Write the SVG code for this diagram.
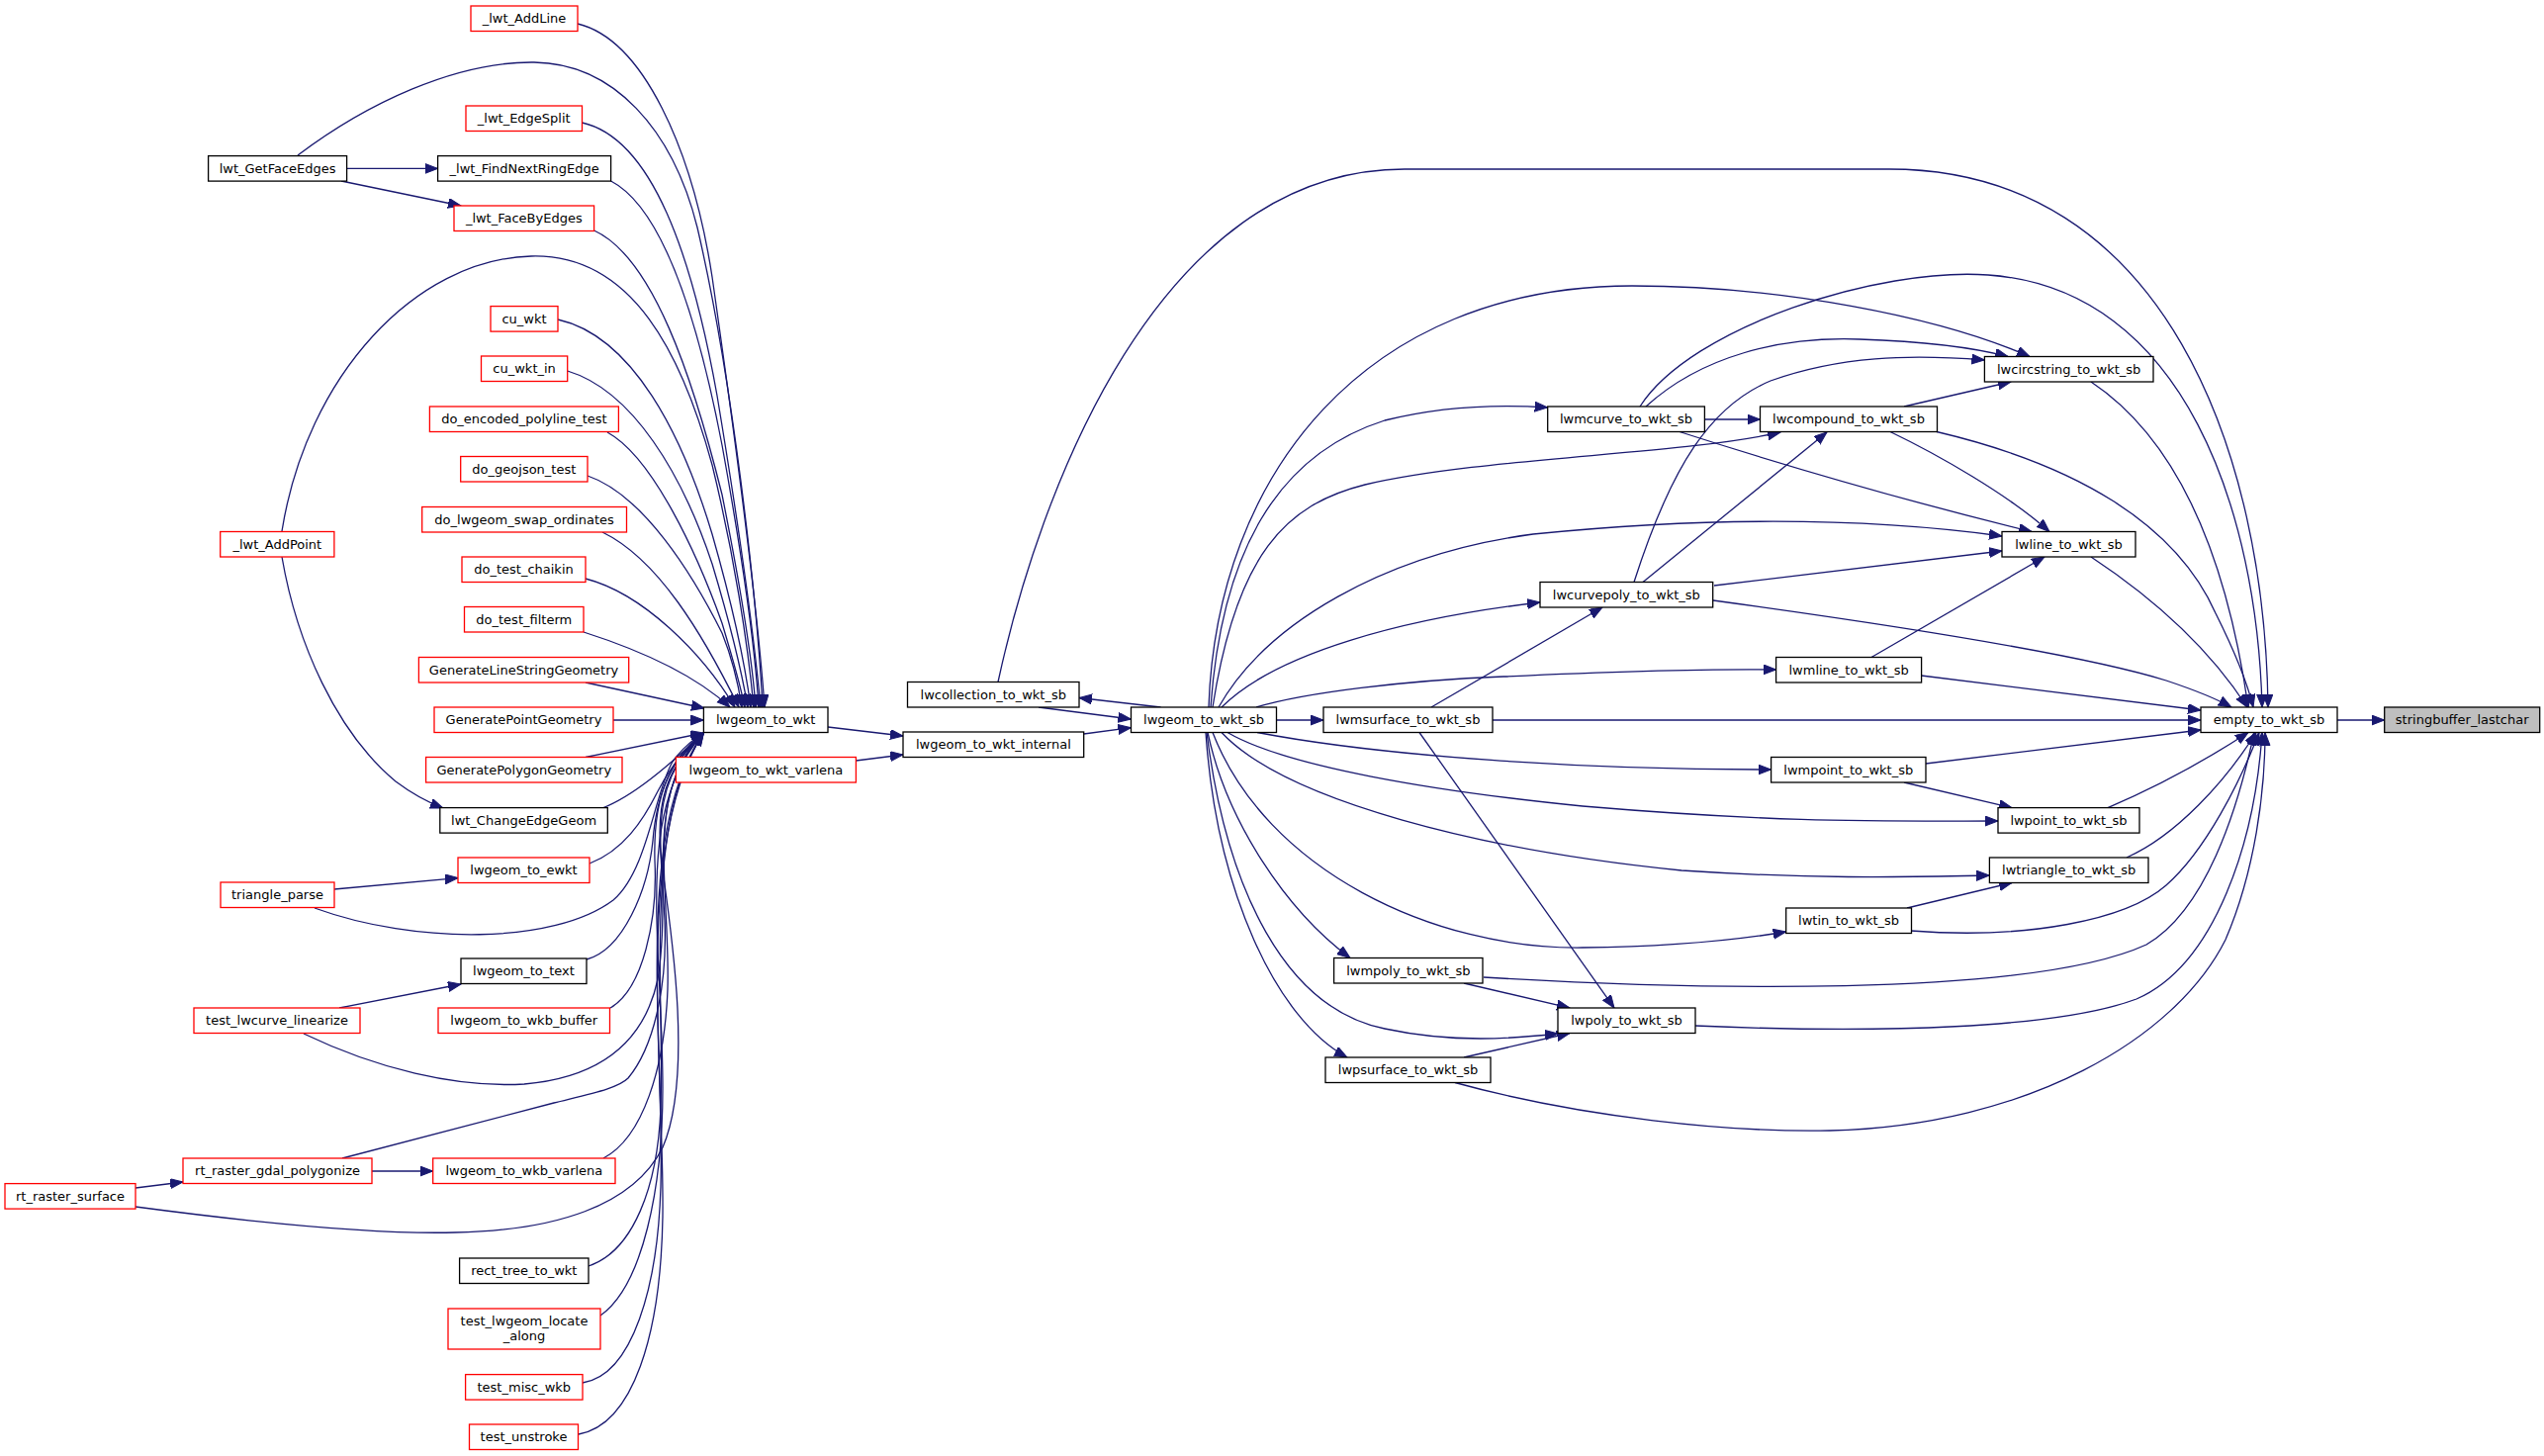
<svg xmlns="http://www.w3.org/2000/svg" width="2572" height="1472" viewBox="0 0 2572 1472">
<style>
.n rect{fill:#fff;stroke:#000;stroke-width:1.3}
.n.r rect{stroke:#ff0000}
.n.g rect{fill:#bfbfbf}
.n text{font-family:"DejaVu Sans","Liberation Sans",sans-serif;font-size:13px;text-anchor:middle;fill:#000}
#edges path{fill:none;stroke:#191970;stroke-width:1.3;marker-end:url(#a)}
</style>
<defs>
<marker id="a" markerUnits="userSpaceOnUse" markerWidth="14" markerHeight="11" refX="13" refY="5" orient="auto">
<path d="M0,0 L13,5 L0,10 z" fill="#191970" stroke="#191970" stroke-width="1"/>
</marker>
</defs>
<rect x="0" y="0" width="2572" height="1472" fill="#fff"/>
<g id="edges">
<!-- callers of lwgeom_to_wkt (upper) -->
<path d="M584,24 C650,40 700,150 720,280 C740,420 765,600 773,715"/>
<path d="M301,157 C370,105 460,62 540,63 C620,64 680,130 705,230 C740,380 765,600 771,715"/>
<path d="M588.5,124 C660,140 700,260 725,400 C745,520 762,640 769,715"/>
<path d="M617.6,183 C670,210 705,320 730,450 C750,560 763,650 767,715"/>
<path d="M600.6,233 C660,260 700,380 730,500 C748,590 760,660 764,715"/>
<path d="M285,537 C310,380 420,262 537,259 C640,256 690,360 720,470 C742,560 756,650 762,715"/>
<path d="M564,323 C640,340 690,440 720,540 C740,610 753,670 759,715"/>
<path d="M573.7,375 C640,395 690,480 720,570 C738,630 750,680 756,715"/>
<path d="M614,437 C660,462 705,560 730,630 C742,670 750,700 753,715"/>
<path d="M594,481 C650,500 700,580 730,640 C740,665 747,695 750,715"/>
<path d="M609,538 C665,565 710,640 747,715"/>
<path d="M592,585 C650,600 710,660 743,715"/>
<path d="M590,639 C640,655 700,680 738,715"/>
<path d="M592,690 L712,716"/>
<path d="M620,728 L711.4,728"/>
<path d="M592,765.5 L711.4,741"/>
<!-- callers of lwgeom_to_wkt (lower) -->
<path d="M609,817 C640,805 675,775 711.4,741"/>
<path d="M596,873 C630,860 650,830 665,800 C678,775 692,757 711.4,741"/>
<path d="M318,918 C420,955 560,955 620,910 C655,880 662,800 680,770 C690,756 700,748 711.4,741"/>
<path d="M593,970 C630,960 655,900 660,850 C664,800 680,765 711.4,741"/>
<path d="M617,1019 C650,1000 665,930 662,870 C660,800 680,765 711.4,741"/>
<path d="M307,1045 C380,1080 460,1100 530,1096 C600,1090 650,1060 665,990 C680,900 650,800 711.4,741"/>
<path d="M346,1171 L560,1115 C600,1105 625,1100 635,1090 C660,1060 675,1000 672,930 C668,850 655,790 711.4,741"/>
<path d="M610,1171 C650,1150 672,1080 675,1000 C678,900 650,800 711.4,741"/>
<path d="M137,1220 C250,1235 380,1248 460,1246 C560,1244 640,1220 670,1160 C700,1090 680,950 670,880 C660,810 675,775 711.4,741"/>
<path d="M595,1280 C640,1265 665,1200 668,1120 C672,1000 650,830 711.4,741"/>
<path d="M607,1330 C650,1300 670,1200 670,1100 C670,950 640,820 711.4,741"/>
<path d="M589,1398 C640,1390 665,1300 668,1200 C672,1050 640,840 711.4,741"/>
<path d="M585,1450 C640,1440 668,1350 670,1230 C672,1080 640,850 711.4,741"/>
<!-- other left edges -->
<path d="M350.6,170.4 L442.6,170.4"/>
<path d="M345,183 L466,208"/>
<path d="M285,563 C300,650 340,740 400,790 C420,805 435,812 448,817"/>
<path d="M338,899 L463,887.6"/>
<path d="M343,1019 L466,995"/>
<path d="M137,1201 L185,1195"/>
<path d="M376,1184 L437.7,1184"/>
<path d="M837,735 L913,744"/>
<path d="M865.4,769 L913,763"/>
<path d="M1095.7,742 L1143.5,735.7"/>
<path d="M1173.6,715 L1091,705.5"/>
<path d="M1050,715 L1143.5,727"/>
<!-- right part -->
<path d="M1009,689.5 C1050,500 1170,171 1420,171 L1910,171 C2190,171 2290,460 2293,715"/>
<path d="M1222,715 C1230,480 1380,289 1650,289 C1800,289 1960,320 2052,360.5"/>
<path d="M1226,715 C1250,560 1300,510 1380,490 C1500,462 1700,460 1800,437"/>
<path d="M1224,715 C1235,560 1290,460 1400,425 C1460,410 1520,409 1564.7,412"/>
<path d="M1658,411 C1710,330 1900,270 2010,278 C2210,292 2282,520 2287,715"/>
<path d="M1664,411 C1720,360 1800,340 1880,343 C1940,345 1990,350 2030,360.5"/>
<path d="M1652,588.5 C1690,470 1730,410 1790,385 C1860,360 1930,358 2006.4,364"/>
<path d="M1661,588.5 L1847,437"/>
<path d="M1723.4,424 L1779.5,424"/>
<path d="M1925,411 L2033,386"/>
<path d="M1698,436.5 Q1880,495 2054,537.5"/>
<path d="M1911,436.5 C1960,460 2030,500 2072,537.5"/>
<path d="M1958,436.5 C2100,470 2200,530 2240,620 C2260,660 2272,690 2278,715"/>
<path d="M2114,386 C2180,430 2245,520 2273,715"/>
<path d="M1232,715 C1280,630 1400,560 1550,540 C1750,520 1900,525 2024,542"/>
<path d="M1733,592 L2024,557"/>
<path d="M1892,664.5 L2067,563"/>
<path d="M2114,563 C2170,600 2230,650 2272,715"/>
<path d="M1732,607 C1900,630 2100,660 2190,688 C2220,698 2240,706 2256,715"/>
<path d="M1942.5,683 L2225,718"/>
<path d="M1270,715 C1320,700 1420,688 1520,684 C1650,678 1720,676 1795.6,677"/>
<path d="M1235,715 C1290,660 1420,625 1557,609"/>
<path d="M1447,715 L1620,614"/>
<path d="M1509,728 L2225,728"/>
<path d="M1290.5,728 L1338,728"/>
<path d="M1435,740.5 L1632,1019"/>
<path d="M1271,740.5 C1400,765 1600,778 1790.6,778"/>
<path d="M1947,772 L2225,738"/>
<path d="M1925,791 L2034,816.6"/>
<path d="M1241,740.5 C1300,775 1450,800 1600,815 C1800,832 1900,830 2020,830"/>
<path d="M2131,816.6 C2170,800 2220,775 2273,740.5"/>
<path d="M1235,740.5 C1300,810 1500,860 1700,880 C1850,890 1950,886 2011.4,885"/>
<path d="M2150,867 C2200,845 2250,790 2281,740.5"/>
<path d="M1928,918 L2034,892.5"/>
<path d="M1932,941 C2050,950 2150,930 2190,895 C2230,860 2265,790 2284,740.5"/>
<path d="M1226,740.5 C1280,880 1450,960 1600,958 C1700,957 1770,948 1805.7,942"/>
<path d="M1221,740.5 C1240,830 1300,920 1365,968.5"/>
<path d="M1500,988 C1700,1000 2050,1010 2170,955 C2230,920 2262,820 2279,740.5"/>
<path d="M1480,994 L1587,1019"/>
<path d="M1220,740.5 C1240,900 1300,1020 1400,1040 C1470,1055 1530,1050 1575,1045"/>
<path d="M1480,1069 L1587,1044.5"/>
<path d="M1219,740.5 C1230,900 1290,1030 1362,1069"/>
<path d="M1714,1037 C1900,1045 2080,1040 2160,1010 C2240,975 2280,850 2287,740.5"/>
<path d="M1471,1094.5 C1600,1130 1750,1145 1850,1143 C2050,1138 2200,1050 2250,950 C2280,880 2290,800 2290,740.5"/>
<path d="M2363,728 L2410.7,728"/>
</g>
<g id="n1" class="n r"><rect x="476" y="6" width="108" height="25.5"/><text x="530" y="23.4">_lwt_AddLine</text></g>
<g id="n2" class="n r"><rect x="471" y="107" width="117.5" height="25.5"/><text x="529.75" y="124.4">_lwt_EdgeSplit</text></g>
<g id="n3" class="n"><rect x="210.6" y="157.6" width="140" height="25.5"/><text x="280.6" y="175">lwt_GetFaceEdges</text></g>
<g id="n4" class="n"><rect x="442.6" y="157.6" width="175" height="25.5"/><text x="530.1" y="175">_lwt_FindNextRingEdge</text></g>
<g id="n5" class="n r"><rect x="459" y="208" width="141.6" height="25.5"/><text x="529.8" y="225.4">_lwt_FaceByEdges</text></g>
<g id="n6" class="n r"><rect x="496" y="309.6" width="68" height="25.5"/><text x="530" y="327">cu_wkt</text></g>
<g id="n7" class="n r"><rect x="486.5" y="360" width="87.2" height="25.5"/><text x="530.1" y="377.4">cu_wkt_in</text></g>
<g id="n8" class="n r"><rect x="434.4" y="411" width="191" height="25.5"/><text x="529.9" y="428.4">do_encoded_polyline_test</text></g>
<g id="n9" class="n r"><rect x="465.7" y="461.5" width="128.3" height="25.5"/><text x="529.85" y="478.9">do_geojson_test</text></g>
<g id="n10" class="n r"><rect x="426.7" y="512.5" width="206.8" height="25.5"/><text x="530.1" y="529.9">do_lwgeom_swap_ordinates</text></g>
<g id="n11" class="n r"><rect x="222.7" y="537.5" width="115.2" height="25.5"/><text x="280.3" y="554.9">_lwt_AddPoint</text></g>
<g id="n12" class="n r"><rect x="467" y="563" width="125" height="25.5"/><text x="529.5" y="580.4">do_test_chaikin</text></g>
<g id="n13" class="n r"><rect x="469.5" y="613.5" width="120.5" height="25.5"/><text x="529.75" y="630.9">do_test_filterm</text></g>
<g id="n14" class="n r"><rect x="423.4" y="664.5" width="212.3" height="25.5"/><text x="529.55" y="681.9">GenerateLineStringGeometry</text></g>
<g id="n15" class="n r"><rect x="439" y="715" width="181" height="25.5"/><text x="529.5" y="732.4">GeneratePointGeometry</text></g>
<g id="n16" class="n"><rect x="711.4" y="715" width="125.6" height="25.5"/><text x="774.2" y="732.4">lwgeom_to_wkt</text></g>
<g id="n17" class="n r"><rect x="430.6" y="765.5" width="198.4" height="25.5"/><text x="529.8" y="782.9">GeneratePolygonGeometry</text></g>
<g id="n18" class="n r"><rect x="683.4" y="765.5" width="182" height="25.5"/><text x="774.4" y="782.9">lwgeom_to_wkt_varlena</text></g>
<g id="n19" class="n"><rect x="444.8" y="816.6" width="169.5" height="25.5"/><text x="529.55" y="834">lwt_ChangeEdgeGeom</text></g>
<g id="n20" class="n r"><rect x="463" y="867" width="133" height="25.5"/><text x="529.5" y="884.4">lwgeom_to_ewkt</text></g>
<g id="n21" class="n r"><rect x="223" y="892" width="115" height="25.5"/><text x="280.5" y="909.4">triangle_parse</text></g>
<g id="n22" class="n"><rect x="466" y="969" width="127" height="25.5"/><text x="529.5" y="986.4">lwgeom_to_text</text></g>
<g id="n23" class="n r"><rect x="196" y="1019" width="168" height="25.5"/><text x="280" y="1036.4">test_lwcurve_linearize</text></g>
<g id="n24" class="n r"><rect x="443" y="1019" width="173.5" height="25.5"/><text x="529.75" y="1036.4">lwgeom_to_wkb_buffer</text></g>
<g id="n25" class="n r"><rect x="185" y="1171" width="191" height="25.5"/><text x="280.5" y="1188.4">rt_raster_gdal_polygonize</text></g>
<g id="n26" class="n r"><rect x="437.7" y="1171" width="184.3" height="25.5"/><text x="529.85" y="1188.4">lwgeom_to_wkb_varlena</text></g>
<g id="n27" class="n r"><rect x="5" y="1196.6" width="132" height="25.5"/><text x="71" y="1214">rt_raster_surface</text></g>
<g id="n28" class="n"><rect x="464.6" y="1272" width="130.4" height="25.5"/><text x="529.8" y="1289.4">rect_tree_to_wkt</text></g>
<g id="n29" class="n r"><rect x="453" y="1323" width="154" height="41"/><text x="530" y="1340.3">test_lwgeom_locate</text><text x="530" y="1355">_along</text></g>
<g id="n30" class="n r"><rect x="470.6" y="1389.6" width="118.4" height="25.5"/><text x="529.8" y="1407">test_misc_wkb</text></g>
<g id="n31" class="n r"><rect x="474.5" y="1440" width="110" height="25.5"/><text x="529.5" y="1457.4">test_unstroke</text></g>
<g id="n32" class="n"><rect x="913" y="740" width="182.7" height="25.5"/><text x="1004.35" y="757.4">lwgeom_to_wkt_internal</text></g>
<g id="n33" class="n"><rect x="917.5" y="689.5" width="173.5" height="25.5"/><text x="1004.25" y="706.9">lwcollection_to_wkt_sb</text></g>
<g id="n34" class="n"><rect x="1143.5" y="715" width="147" height="25.5"/><text x="1217" y="732.4">lwgeom_to_wkt_sb</text></g>
<g id="n35" class="n"><rect x="1338" y="715" width="171" height="25.5"/><text x="1423.5" y="732.4">lwmsurface_to_wkt_sb</text></g>
<g id="n36" class="n"><rect x="1564.7" y="411" width="158.7" height="25.5"/><text x="1644" y="428.4">lwmcurve_to_wkt_sb</text></g>
<g id="n37" class="n"><rect x="1557" y="588.5" width="174.7" height="25.5"/><text x="1644.35" y="605.9">lwcurvepoly_to_wkt_sb</text></g>
<g id="n38" class="n"><rect x="1348.6" y="968.5" width="150.4" height="25.5"/><text x="1423.8" y="985.9">lwmpoly_to_wkt_sb</text></g>
<g id="n39" class="n"><rect x="1575" y="1019" width="139" height="25.5"/><text x="1644.5" y="1036.4">lwpoly_to_wkt_sb</text></g>
<g id="n40" class="n"><rect x="1340" y="1069" width="167" height="25.5"/><text x="1423.5" y="1086.4">lwpsurface_to_wkt_sb</text></g>
<g id="n41" class="n"><rect x="2006.4" y="360.5" width="170.6" height="25.5"/><text x="2091.7" y="377.9">lwcircstring_to_wkt_sb</text></g>
<g id="n42" class="n"><rect x="1779.5" y="411" width="179" height="25.5"/><text x="1869" y="428.4">lwcompound_to_wkt_sb</text></g>
<g id="n43" class="n"><rect x="2024" y="537.5" width="135" height="25.5"/><text x="2091.5" y="554.9">lwline_to_wkt_sb</text></g>
<g id="n44" class="n"><rect x="1795.6" y="664.5" width="147" height="25.5"/><text x="1869.1" y="681.9">lwmline_to_wkt_sb</text></g>
<g id="n45" class="n"><rect x="2225" y="715" width="138" height="25.5"/><text x="2294" y="732.4">empty_to_wkt_sb</text></g>
<g id="n46" class="n g"><rect x="2410.7" y="715" width="157" height="25.5"/><text x="2489.2" y="732.4">stringbuffer_lastchar</text></g>
<g id="n47" class="n"><rect x="1790.6" y="765.5" width="156.4" height="25.5"/><text x="1868.8" y="782.9">lwmpoint_to_wkt_sb</text></g>
<g id="n48" class="n"><rect x="2020" y="816.6" width="143" height="25.5"/><text x="2091.5" y="834">lwpoint_to_wkt_sb</text></g>
<g id="n49" class="n"><rect x="2011.4" y="867" width="160.6" height="25.5"/><text x="2091.7" y="884.4">lwtriangle_to_wkt_sb</text></g>
<g id="n50" class="n"><rect x="1805.7" y="918" width="126.8" height="25.5"/><text x="1869.1" y="935.4">lwtin_to_wkt_sb</text></g>
</svg>
